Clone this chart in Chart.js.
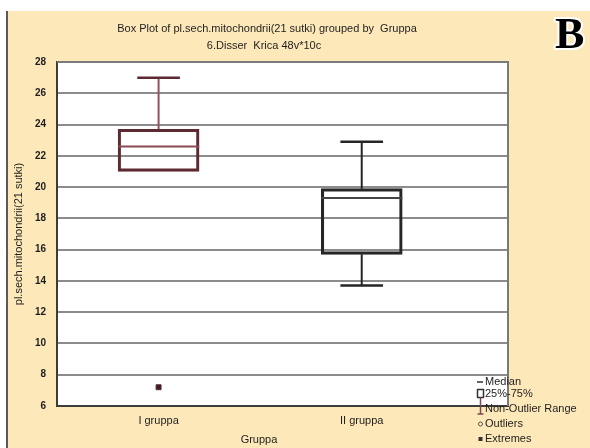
<!DOCTYPE html>
<html>
<head>
<meta charset="utf-8">
<script src="https://cdn.jsdelivr.net/npm/chart.js@4/dist/chart.umd.min.js"></script>
<style>
  html, body { margin: 0; padding: 0; background: #ffffff; }
  #wrap { width: 590px; height: 448px; }
</style>
</head>
<body>
<div id="wrap"><canvas id="c" width="590" height="448"></canvas></div>
<script>
// Box plot summary per group
const groups = ['I gruppa', 'II gruppa'];
const whiskerLow = [21.0, 13.7];
const quartile1 = [21.0, 15.7];
const medians = [22.6, 19.3];
const quartile3 = [23.7, 19.9];
const whiskerHigh = [27.0, 22.9];
const extremes = [[7.2], []];
const yTicks = [6, 8, 10, 12, 14, 16, 18, 20, 22, 24, 26, 28];

const titleLines = ['Box Plot of pl.sech.mitochondrii(21 sutki) grouped by  Gruppa', '6.Disser  Krica 48v*10c'];
const yTitle = 'pl.sech.mitochondrii(21 sutki)';
const xTitle = 'Gruppa';
const legendItems = ['Median', '25%-75%', 'Non-Outlier Range', 'Outliers', 'Extremes'];

const BG = '#fde8b9';
const TEXT = '#1e1e1e';
const FONT = '"Liberation Sans", Arial, sans-serif';
const boxColors = ['#5e2a32', '#262626'];
const whiskerColors = ['#9a4f5a', '#262626'];
const BOX_HALF = 0.2;   // half box width, in x units
const CAP_HALF = 0.105; // half whisker cap width, in x units

const boxData = groups.map((g, i) => ({ x: i + 1, y: [quartile1[i], quartile3[i]] }));
const extremeData = [];
extremes.forEach((arr, i) => arr.forEach(v => extremeData.push({ x: i + 1, y: v })));

const framePlugin = {
  id: 'frame',
  beforeDraw(chart) {
    const ctx = chart.ctx, a = chart.chartArea;
    ctx.save();
    ctx.fillStyle = '#ffffff';
    ctx.fillRect(0, 0, chart.width, chart.height);
    ctx.fillStyle = BG;
    ctx.fillRect(8, 11, chart.width - 8, chart.height - 11);
    ctx.fillStyle = '#5a5a5a';
    ctx.fillRect(6, 11, 2, chart.height - 11);
    ctx.fillStyle = '#ffffff';
    ctx.fillRect(a.left, a.top, a.right - a.left, a.bottom - a.top);
    ctx.restore();
  },
  afterDraw(chart) {
    const ctx = chart.ctx, a = chart.chartArea;
    ctx.save();
    // right / top frame of the plot
    ctx.strokeStyle = '#7a7a7a';
    ctx.lineWidth = 2;
    ctx.beginPath();
    ctx.moveTo(a.left, a.top);
    ctx.lineTo(a.right, a.top);
    ctx.lineTo(a.right, a.bottom);
    ctx.stroke();

    // titles
    ctx.fillStyle = TEXT;
    ctx.textAlign = 'center';
    ctx.textBaseline = 'middle';
    ctx.font = '11px ' + FONT;
    ctx.fillText(titleLines[0], 267, 29);
    ctx.fillText(titleLines[1], 264, 46);

    // axis titles
    ctx.fillText(xTitle, 259, 440);
    ctx.save();
    ctx.translate(19, (a.top + a.bottom) / 2);
    ctx.rotate(-Math.PI / 2);
    ctx.fillText(yTitle, 0, 0);
    ctx.restore();

    // panel letter
    ctx.font = 'bold 44px "Liberation Serif", "Times New Roman", serif';
    ctx.textAlign = 'left';
    ctx.textBaseline = 'alphabetic';
    ctx.lineWidth = 4;
    ctx.strokeStyle = '#ffffff';
    ctx.lineJoin = 'round';
    ctx.strokeText('B', 555, 48);
    ctx.fillStyle = '#000000';
    ctx.fillText('B', 555, 48);

    // legend
    const lx = 477, tx = 485;
    const ly = [382, 394, 409, 424, 439];
    ctx.font = '11px ' + FONT;
    ctx.textBaseline = 'middle';
    ctx.fillStyle = TEXT;
    legendItems.forEach((t, i) => ctx.fillText(t, tx, ly[i]));
    ctx.strokeStyle = '#333';
    ctx.lineWidth = 1.5;
    ctx.beginPath(); ctx.moveTo(lx, ly[0]); ctx.lineTo(lx + 6, ly[0]); ctx.stroke();
    ctx.strokeRect(lx + 0.5, ly[1] - 4.5, 6, 8);
    ctx.strokeStyle = '#7a4a50';
    ctx.beginPath();
    ctx.moveTo(lx + 3.5, ly[1] + 3.5); ctx.lineTo(lx + 3.5, ly[2] + 5);
    ctx.moveTo(lx + 0.5, ly[2] + 5); ctx.lineTo(lx + 6.5, ly[2] + 5);
    ctx.stroke();
    ctx.strokeStyle = '#555';
    ctx.lineWidth = 1;
    ctx.beginPath(); ctx.arc(lx + 3.5, ly[3], 2, 0, Math.PI * 2); ctx.stroke();
    ctx.fillStyle = '#333';
    ctx.fillRect(lx + 1.5, ly[4] - 2, 4, 4);
    ctx.restore();
  }
};

// whiskers and medians drawn from the summary arrays through the chart scales
const boxPlotPlugin = {
  id: 'boxplot',
  beforeDatasetsDraw(chart) {
    const ctx = chart.ctx, xs = chart.scales.x, ys = chart.scales.y;
    ctx.save();
    groups.forEach((g, i) => {
      const cx = xs.getPixelForValue(i + 1);
      const c0 = xs.getPixelForValue(i + 1 - CAP_HALF);
      const c1 = xs.getPixelForValue(i + 1 + CAP_HALF);
      ctx.strokeStyle = whiskerColors[i];
      ctx.lineWidth = 2;
      ctx.beginPath();
      ctx.moveTo(cx, ys.getPixelForValue(quartile3[i]));
      ctx.lineTo(cx, ys.getPixelForValue(whiskerHigh[i]));
      if (whiskerLow[i] < quartile1[i]) {
        ctx.moveTo(cx, ys.getPixelForValue(quartile1[i]));
        ctx.lineTo(cx, ys.getPixelForValue(whiskerLow[i]));
      }
      ctx.stroke();
      ctx.strokeStyle = boxColors[i];
      ctx.lineWidth = 2.5;
      ctx.beginPath();
      ctx.moveTo(c0, ys.getPixelForValue(whiskerHigh[i]));
      ctx.lineTo(c1, ys.getPixelForValue(whiskerHigh[i]));
      if (whiskerLow[i] < quartile1[i]) {
        ctx.moveTo(c0, ys.getPixelForValue(whiskerLow[i]));
        ctx.lineTo(c1, ys.getPixelForValue(whiskerLow[i]));
      }
      ctx.stroke();
    });
    ctx.restore();
  },
  afterDatasetsDraw(chart) {
    const ctx = chart.ctx, xs = chart.scales.x, ys = chart.scales.y;
    ctx.save();
    ctx.lineWidth = 2;
    groups.forEach((g, i) => {
      const x0 = xs.getPixelForValue(i + 1 - BOX_HALF);
      const x1 = xs.getPixelForValue(i + 1 + BOX_HALF);
      const y = ys.getPixelForValue(medians[i]);
      ctx.strokeStyle = i === 0 ? '#8a4a52' : '#444';
      ctx.beginPath();
      ctx.moveTo(x0, y);
      ctx.lineTo(x1, y);
      ctx.stroke();
    });
    ctx.restore();
  }
};

new Chart(document.getElementById('c'), {
  data: {
    datasets: [
      {
        type: 'bar',
        data: boxData,
        backgroundColor: 'rgba(255,255,255,0)',
        borderColor: boxColors,
        borderWidth: 2.5,
        borderSkipped: false,
        barThickness: 81,
        order: 2
      },
      {
        type: 'scatter',
        data: extremeData,
        pointStyle: 'rect',
        pointRadius: 3.5,
        backgroundColor: '#3e1c24',
        borderColor: '#5a2a32',
        borderWidth: 1,
        order: 1
      }
    ]
  },
  plugins: [framePlugin, boxPlotPlugin],
  options: {
    responsive: false,
    animation: false,
    layout: { padding: { top: 62, right: 82, left: 0, bottom: 0 } },
    plugins: { legend: { display: false }, tooltip: { enabled: false }, title: { display: false } },
    scales: {
      x: {
        type: 'linear',
        offset: false,
        min: 0.5,
        max: 2.72,
        afterFit(s) { s.height = 42; },
        afterBuildTicks(s) { s.ticks = groups.map((g, i) => ({ value: i + 1 })); },
        ticks: {
          callback: v => groups[v - 1] || '',
          color: TEXT,
          font: { family: FONT, size: 11 },
          padding: 8,
          maxRotation: 0,
          autoSkip: false
        },
        grid: { drawOnChartArea: false, drawTicks: false, offset: false },
        border: { display: true, color: '#3c3c3c', width: 2 }
      },
      y: {
        min: 6,
        max: 28,
        afterFit(s) { s.width = 57; },
        afterBuildTicks(s) { s.ticks = yTicks.map(v => ({ value: v })); },
        ticks: {
          color: TEXT,
          font: { family: FONT, size: 10, weight: 'bold' },
          padding: 11
        },
        grid: {
          drawTicks: false,
          color: '#8c8c8c',
          lineWidth: 2
        },
        border: { display: true, color: '#3c3c3c', width: 2 }
      }
    }
  }
});
</script>
</body>
</html>
